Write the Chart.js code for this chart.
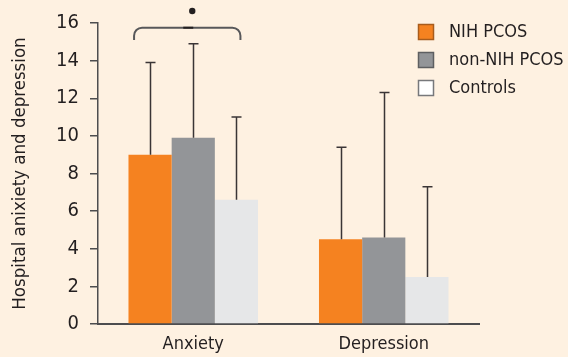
<!DOCTYPE html>
<html>
<head>
<meta charset="utf-8">
<script src="https://cdn.jsdelivr.net/npm/chart.js@4/dist/chart.umd.min.js"></script>
<style>
  html, body { margin: 0; padding: 0; background: #fef1e1; }
  #wrap { width: 568px; height: 357px; }
</style>
</head>
<body>
<div id="wrap"><canvas id="c" width="568" height="357"></canvas></div>
<script>
const categories = ["Anxiety", "Depression"];
const seriesNames = ["NIH PCOS", "non-NIH PCOS", "Controls"];
const nihValues = [9.0, 4.5];
const nonNihValues = [9.9, 4.6];
const controlValues = [6.6, 2.5];
const nihErrorTop = [13.9, 9.4];
const nonNihErrorTop = [14.9, 12.3];
const controlErrorTop = [11.0, 7.3];
const yTicks = [0, 2, 4, 6, 8, 10, 12, 14, 16];

const FONT = "'DejaVu Sans Condensed', 'Liberation Sans', sans-serif";
const TXT = '#231f20';
const AX = '#4d4d4f';

const errorBars = {
  id: 'errorBars',
  afterDatasetsDraw(chart) {
    const ctx = chart.ctx;
    const y = chart.scales.y;
    ctx.save();
    ctx.strokeStyle = '#3a3536';
    ctx.lineWidth = 1.5;
    chart.data.datasets.forEach((ds, di) => {
      const meta = chart.getDatasetMeta(di);
      meta.data.forEach((bar, i) => {
        const top = y.getPixelForValue(ds.errTop[i]);
        const x = Math.round(bar.x) + 0.5;
        ctx.beginPath();
        ctx.moveTo(x, bar.y);
        ctx.lineTo(x, top);
        ctx.moveTo(x - 5, top);
        ctx.lineTo(x + 5, top);
        ctx.stroke();
      });
    });
    // significance bracket over the Anxiety group
    const b0 = chart.getDatasetMeta(0).data[0];
    const b2 = chart.getDatasetMeta(2).data[0];
    const l = b0.x - 16, r = b2.x + 4;
    const yt = y.getPixelForValue(15.75), yb = y.getPixelForValue(15.1);
    const rad = 8;
    ctx.strokeStyle = '#58585a';
    ctx.lineWidth = 2;
    ctx.beginPath();
    ctx.moveTo(l, yb);
    ctx.lineTo(l, yt + rad);
    ctx.arcTo(l, yt, l + rad, yt, rad);
    ctx.lineTo(r - rad, yt);
    ctx.arcTo(r, yt, r, yt + rad, rad);
    ctx.lineTo(r, yb);
    ctx.stroke();
    const mid = (l + r) / 2;
    ctx.strokeStyle = '#231f20';
    ctx.beginPath();
    ctx.moveTo(mid - 4, yt);
    ctx.lineTo(mid + 6, yt);
    ctx.stroke();
    ctx.fillStyle = '#231f20';
    ctx.beginPath();
    ctx.arc(mid + 5, y.getPixelForValue(16.64), 3.2, 0, Math.PI * 2);
    ctx.fill();
    ctx.restore();
  }
};

const customLegend = {
  id: 'customLegend',
  afterDraw(chart) {
    const ctx = chart.ctx;
    ctx.save();
    const borders = ['#a85c1c', '#5e5f61', '#77787b'];
    const fills = ['#f58220', '#939598', '#ffffff'];
    chart.data.datasets.forEach((ds, i) => {
      const bx = 418.5, by = 24.5 + i * 28;
      ctx.fillStyle = fills[i];
      ctx.fillRect(bx, by, 15, 15);
      ctx.strokeStyle = borders[i];
      ctx.lineWidth = 1.5;
      ctx.strokeRect(bx, by, 15, 15);
      ctx.fillStyle = TXT;
      ctx.font = '18px ' + FONT;
      ctx.textBaseline = 'middle';
      ctx.fillText(ds.label, 449, by + 8);
    });
    ctx.restore();
  }
};

new Chart(document.getElementById('c'), {
  type: 'bar',
  data: {
    labels: categories,
    datasets: [
      { label: seriesNames[0], data: nihValues, errTop: nihErrorTop, backgroundColor: '#f58220' },
      { label: seriesNames[1], data: nonNihValues, errTop: nonNihErrorTop, backgroundColor: '#939598' },
      { label: seriesNames[2], data: controlValues, errTop: controlErrorTop, backgroundColor: '#e6e7e8' }
    ]
  },
  options: {
    responsive: false,
    animation: false,
    layout: { padding: { left: 9, right: 89, top: 18, bottom: 0 } },
    datasets: { bar: { categoryPercentage: 0.68, barPercentage: 1.0, borderWidth: 0 } },
    plugins: { legend: { display: false }, tooltip: { enabled: false } },
    scales: {
      x: {
        grid: { display: false },
        border: { display: true, color: AX, width: 2 },
        ticks: { color: TXT, font: { family: FONT, size: 18 }, padding: 2 },
        afterFit(s) { s.height = 33; }
      },
      y: {
        min: 0, max: 16,
        afterBuildTicks(s) { s.ticks = yTicks.map(v => ({ value: v })); },
        grid: { drawOnChartArea: false, drawTicks: true, tickLength: 8, color: AX, lineWidth: 1.5 },
        border: { display: true, color: AX, width: 1.5 },
        ticks: { color: TXT, font: { family: FONT, size: 20 }, padding: 11 },
        title: { display: true, text: 'Hospital anixiety and depression', color: TXT, font: { family: FONT, size: 18.5 }, padding: { top: 0, bottom: 4 } },
        afterFit(s) { s.width = 89; }
      }
    }
  },
  plugins: [errorBars, customLegend, {
    id: 'bg',
    beforeDraw(chart) {
      const ctx = chart.ctx;
      ctx.save();
      ctx.fillStyle = '#fef1e1';
      ctx.fillRect(0, 0, chart.width, chart.height);
      ctx.restore();
    }
  }]
});
</script>
</body>
</html>
